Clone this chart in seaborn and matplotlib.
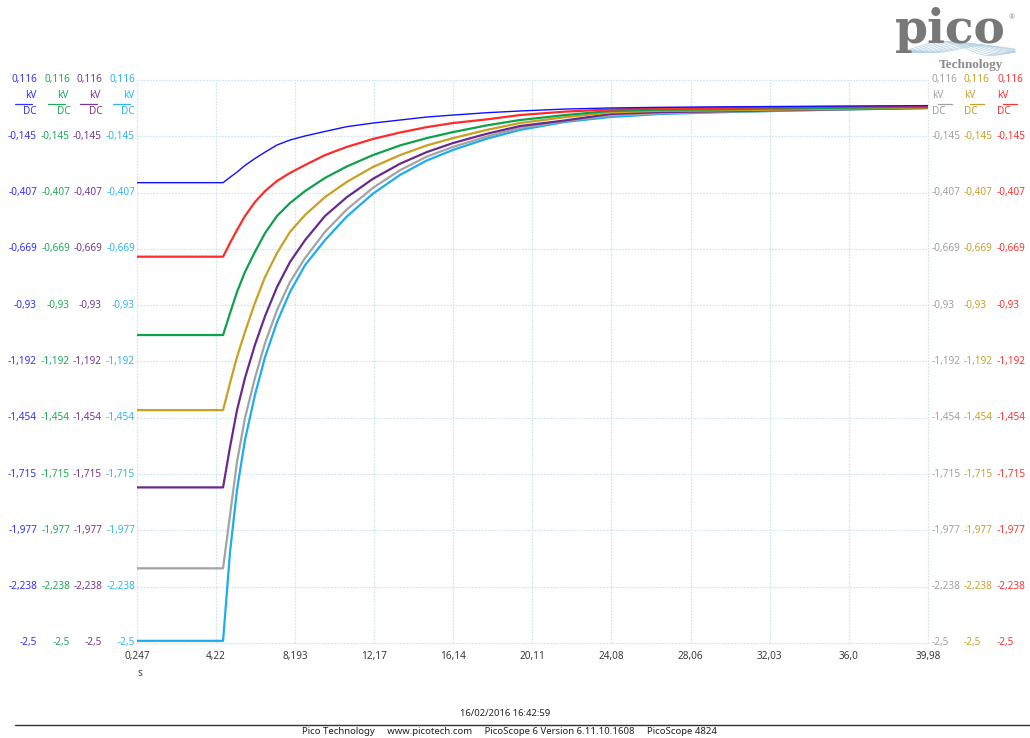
import numpy as np
import pandas as pd
import matplotlib
matplotlib.use("Agg")
import matplotlib.pyplot as plt
import matplotlib.transforms as mtransforms
from matplotlib.lines import Line2D
import seaborn as sns

sns.set_theme(style="white")
plt.rcParams["font.family"] = ["Noto Sans", "DejaVu Sans"]

# ---- capture data (time in s, voltage in kV) ----
time_s = [0.247, 4.57, 4.92, 5.27, 5.67, 6.17, 6.68, 7.28, 7.93, 8.69, 9.69, 10.78,
          12.10, 13.46, 14.80, 16.12, 17.81, 19.48, 21.74, 24.01, 26.52, 29.03,
          34.55, 39.98]

ch_a = [-0.361, -0.361, -0.336, -0.312, -0.281, -0.249, -0.219, -0.186, -0.163, -0.144,
        -0.123, -0.101, -0.084, -0.070, -0.056, -0.047, -0.036, -0.028, -0.019, -0.014,
        -0.011, -0.009, -0.006, -0.003]
ch_b = [-0.705, -0.705, -0.641, -0.581, -0.516, -0.451, -0.400, -0.353, -0.316, -0.279,
        -0.233, -0.195, -0.158, -0.128, -0.103, -0.084, -0.067, -0.047, -0.031, -0.021,
        -0.016, -0.014, -0.009, -0.007]
ch_c = [-1.069, -1.069, -0.967, -0.869, -0.776, -0.683, -0.595, -0.516, -0.456, -0.400,
        -0.339, -0.286, -0.233, -0.188, -0.154, -0.126, -0.095, -0.070, -0.047, -0.028,
        -0.022, -0.021, -0.014, -0.009]
ch_d = [-1.418, -1.418, -1.292, -1.171, -1.055, -0.920, -0.799, -0.688, -0.590, -0.511,
        -0.428, -0.358, -0.288, -0.233, -0.188, -0.154, -0.116, -0.084, -0.057, -0.035,
        -0.027, -0.026, -0.019, -0.012]
ch_e = [-1.777, -1.777, -1.589, -1.418, -1.269, -1.115, -0.981, -0.846, -0.730, -0.628,
        -0.516, -0.429, -0.343, -0.273, -0.219, -0.177, -0.134, -0.098, -0.072, -0.042,
        -0.033, -0.030, -0.021, -0.014]
ch_f = [-2.153, -2.153, -1.905, -1.659, -1.455, -1.269, -1.106, -0.953, -0.823, -0.711,
        -0.590, -0.486, -0.385, -0.303, -0.240, -0.195, -0.147, -0.107, -0.075, -0.049,
        -0.039, -0.033, -0.023, -0.014]
ch_g = [-2.490, -2.490, -2.077, -1.789, -1.557, -1.348, -1.171, -1.009, -0.869, -0.744,
        -0.628, -0.519, -0.412, -0.325, -0.258, -0.209, -0.157, -0.116, -0.079, -0.056,
        -0.042, -0.035, -0.023, -0.014]

x_ticks = [0.247, 4.22, 8.193, 12.17, 16.14, 20.11, 24.08, 28.06, 32.03, 36.0, 39.98]
x_tick_labels = ["0,247", "4,22", "8,193", "12,17", "16,14", "20,11", "24,08",
                 "28,06", "32,03", "36,0", "39,98"]
y_ticks = [0.116, -0.1456, -0.4072, -0.6688, -0.9304, -1.192, -1.4536, -1.7152,
           -1.9768, -2.2384, -2.5]
y_tick_labels = ["0,116", "-0,145", "-0,407", "-0,669", "-0,93", "-1,192", "-1,454",
                 "-1,715", "-1,977", "-2,238", "-2,5"]

colors = {
    "A": "#1010ff", "B": "#ff2a2a", "C": "#0fa04e", "D": "#c9a021",
    "E": "#6a2a8c", "F": "#a3a3a3", "G": "#1aaef0",
}
label_colors = {
    "A": "#3030ff", "B": "#ff3333", "C": "#20a858", "D": "#c9a02a",
    "E": "#76388f", "F": "#a0a0a0", "G": "#30b4f0",
}

W, H = 1030, 738
fig = plt.figure(figsize=(W / 100, H / 100), dpi=100)
fig.patch.set_facecolor("white")


def fx(x):
    return x / W


def fy(y):
    return 1 - y / H


ax = fig.add_axes([fx(137), fy(643), (928 - 137) / W, (643 - 80) / H])
ax.set_facecolor("white")

series = {"G": ch_g, "F": ch_f, "E": ch_e, "D": ch_d, "C": ch_c, "B": ch_b, "A": ch_a}
frames = [pd.DataFrame({"t": time_s, "v": vals, "ch": name}) for name, vals in series.items()]
data = pd.concat(frames, ignore_index=True)

for name in ["G", "F", "E", "D", "C", "B", "A"]:
    sub = data[data["ch"] == name]
    sns.lineplot(data=sub, x="t", y="v", color=colors[name], ax=ax,
                 estimator=None, sort=False, lw=1.0 if name == "A" else 1.6,
                 legend=False, solid_joinstyle="round", solid_capstyle="round")

ax.set_xlim(x_ticks[0], x_ticks[-1])
ax.set_ylim(y_ticks[-1], y_ticks[0])
for s in ax.spines.values():
    s.set_visible(False)

grid_col = "#d3e5ef"
for xv in x_ticks:
    ax.axvline(xv, color=grid_col, lw=0.9, ls=(0, (1.5, 1)), zorder=0, clip_on=False)
for yv in y_ticks:
    ax.axhline(yv, color=grid_col, lw=0.9, ls=(0, (1.5, 1)), zorder=0, clip_on=False)

ax.set_xticks(x_ticks)
ax.set_xticklabels(x_tick_labels, fontsize=7.2, color="#3a3a3a")
ax.set_yticks([])
ax.tick_params(axis="x", length=0, pad=6)
ax.set_xlabel("")
ax.set_ylabel("")
fig.text(fx(140), fy(673), "s", fontsize=7.2, color="#3a3a3a", ha="center", va="center")

# channel scales: four columns on the left, three on the right
ytrans = mtransforms.blended_transform_factory(fig.transFigure, ax.transData)
left_cols = [("A", 37), ("C", 70), ("E", 102), ("G", 135)]
right_cols = [("F", 932), ("D", 964), ("B", 997)]

for name, xr in left_cols:
    c = label_colors[name]
    for yv, lab in zip(y_ticks, y_tick_labels):
        ax.text(fx(xr), yv, lab, transform=ytrans, ha="right", va="center",
                fontsize=7.2, color=c)
    fig.text(fx(xr - 1), fy(96), "kV", ha="right", va="center", fontsize=7.2, color=c)
    fig.add_artist(Line2D([fx(xr - 22), fx(xr - 5)], [fy(104), fy(104)],
                          transform=fig.transFigure, color=c, lw=0.9))
    fig.text(fx(xr), fy(111), "DC", ha="right", va="center", fontsize=7.2, color=c)

for name, xl in right_cols:
    c = label_colors[name]
    for yv, lab in zip(y_ticks, y_tick_labels):
        ax.text(fx(xl), yv, lab, transform=ytrans, ha="left", va="center",
                fontsize=7.2, color=c)
    fig.text(fx(xl), fy(96), "kV", ha="left", va="center", fontsize=7.2, color=c)
    fig.add_artist(Line2D([fx(xl + 6), fx(xl + 20)], [fy(104), fy(104)],
                          transform=fig.transFigure, color=c, lw=0.9))
    fig.text(fx(xl), fy(111), "DC", ha="left", va="center", fontsize=7.2, color=c)

# footer
fig.text(fx(505), fy(713), "16/02/2016 16:42:59", ha="center", va="center",
         fontsize=6.8, color="#222222")
fig.add_artist(Line2D([fx(15), fx(1030)], [fy(724.5), fy(724.5)],
                      transform=fig.transFigure, color="#333333", lw=1.0))
fig.text(fx(509), fy(732), "Pico Technology     www.picotech.com     "
         "PicoScope 6 Version 6.11.10.1608     PicoScope 4824",
         ha="center", va="center", fontsize=6.9, color="#222222")

# logo
fig.text(fx(950), fy(43), "pico", ha="center", va="baseline", fontsize=34,
         family=["DejaVu Serif"], fontweight="bold", color="#787878")
fig.text(fx(1012), fy(18), "®", ha="center", va="center", fontsize=5,
         color="#8a8a8a")
xs = np.linspace(903, 1015, 140)
for k in range(10):
    ph = k * 0.3
    amp = 4 + k * 0.5
    ys = 49 + amp * np.sin((xs - 903) / 112 * 2 * np.pi + ph) * np.exp(-((xs - 960) / 65) ** 2)
    fig.add_artist(Line2D(fx(xs), fy(ys), transform=fig.transFigure,
                          color="#b4d0e2", lw=0.5))
fig.text(fx(971), fy(65), "Technology", ha="center", va="center", fontsize=9.5,
         family=["Liberation Serif"], fontweight="bold", color="#8a8a8a")

fig.savefig("out.png", dpi=100, facecolor="white")
